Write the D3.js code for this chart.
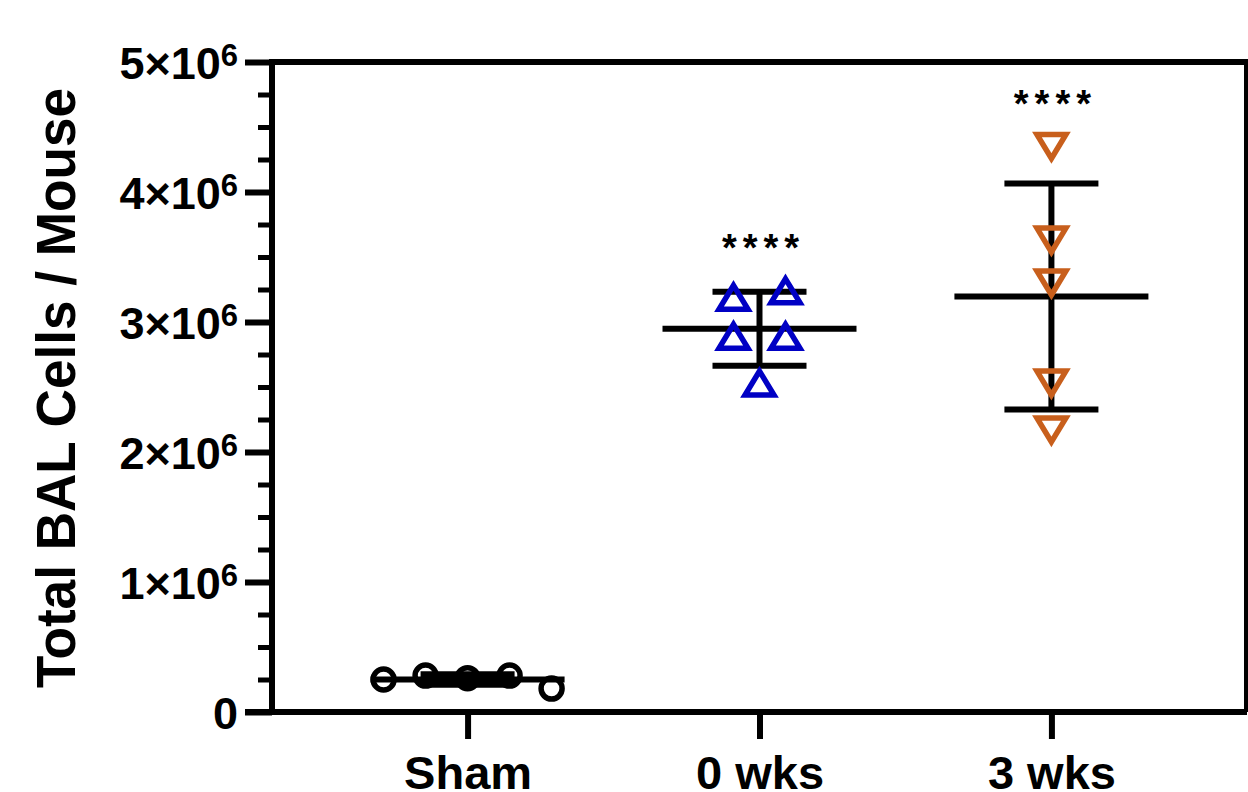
<!DOCTYPE html>
<html>
<head>
<meta charset="utf-8">
<script src="https://cdn.jsdelivr.net/npm/d3@7"></script>
<style>
  html, body { margin: 0; padding: 0; background: #fff; }
  svg { display: block; }
  text { font-family: "Liberation Sans", Arial, Helvetica, sans-serif; font-weight: bold; fill: #000; }
</style>
</head>
<body>
<svg id="chart" width="1248" height="792"></svg>
<script>
// Total BAL cells per mouse, individual animals with mean ± SD
const categories = ["Sham", "0 wks", "3 wks"];
const shamValues = [0.25e6, 0.28e6, 0.26e6, 0.28e6, 0.18e6];
const wk0Values = [3.19e6, 3.24e6, 2.89e6, 2.89e6, 2.53e6];
const wk3Values = [4.35e6, 3.63e6, 3.30e6, 2.53e6, 2.17e6];
const significance = ["", "****", "****"];
const yTickValues = [0, 1e6, 2e6, 3e6, 4e6, 5e6];
const yTickLabels = ["0", "1×10^6", "2×10^6", "3×10^6", "4×10^6", "5×10^6"];
const yMinorStep = 0.25e6;
const yTitle = "Total BAL Cells / Mouse";

const groups = [
  { name: categories[0], values: shamValues, shape: "circle", color: "#000000", spacing: 42 },
  { name: categories[1], values: wk0Values, shape: "triUp", color: "#0000c4", spacing: 52 },
  { name: categories[2], values: wk3Values, shape: "triDown", color: "#c85f1c", spacing: 52 }
];

const svg = d3.select("#chart");
const plotLeft = 272, plotRight = 1247, plotTop = 62, plotBottom = 712;
const lineW = 6;

const x = d3.scalePoint().domain(categories).range([plotLeft, plotRight]).padding(0.67);
const y = d3.scaleLinear().domain([0, 5e6]).range([plotBottom, plotTop]);

// Frame: top and right edges
svg.append("line").attr("x1", plotLeft).attr("x2", plotRight).attr("y1", plotTop).attr("y2", plotTop)
  .attr("stroke", "#000").attr("stroke-width", lineW);
svg.append("line").attr("x1", plotRight).attr("x2", plotRight).attr("y1", plotTop - lineW / 2).attr("y2", plotBottom)
  .attr("stroke", "#000").attr("stroke-width", lineW);

// Y axis: minor ticks
const minorTicks = d3.range(0, 5e6 + 1, yMinorStep).filter(v => !yTickValues.includes(v));
const yMinor = svg.append("g").attr("transform", `translate(${plotLeft},0)`)
  .call(d3.axisLeft(y).tickValues(minorTicks).tickSize(14).tickFormat(""));
yMinor.select(".domain").remove();
yMinor.selectAll(".tick line").attr("stroke-width", lineW - 1);

// Y axis: major ticks and labels
const yAxis = svg.append("g").attr("transform", `translate(${plotLeft},0)`)
  .call(d3.axisLeft(y).tickValues(yTickValues).tickSize(27).tickSizeOuter(0).tickFormat(""));
yAxis.select(".domain").attr("stroke-width", lineW)
  .attr("d", `M0,${plotBottom + lineW / 2}V${plotTop - lineW / 2}`);
yAxis.selectAll(".tick line").attr("stroke-width", lineW);
yAxis.selectAll(".tick").each(function (d, i) {
  const parts = yTickLabels[i].split("^");
  const t = d3.select(this).append("text")
    .attr("x", -34).attr("dy", "0.36em")
    .attr("text-anchor", "end")
    .style("font-size", "45px");
  t.append("tspan").text(parts[0]);
  if (parts[1]) {
    t.append("tspan").attr("dy", "-0.42em").style("font-size", "31px").text(parts[1]);
  }
});

// X axis
const xAxis = svg.append("g").attr("transform", `translate(0,${plotBottom})`)
  .call(d3.axisBottom(x).tickSize(27).tickSizeOuter(0).tickFormat(""));
xAxis.select(".domain").attr("stroke-width", lineW)
  .attr("d", `M${plotLeft - 27},0H${plotRight}`);
xAxis.selectAll(".tick line").attr("stroke-width", lineW);
xAxis.selectAll(".tick").append("text")
  .attr("y", 77).attr("text-anchor", "middle")
  .style("font-size", "47px")
  .text(d => d);

// Y axis title
svg.append("text")
  .attr("transform", `translate(75,388) rotate(-90)`)
  .attr("text-anchor", "middle")
  .attr("textLength", 600).attr("lengthAdjust", "spacingAndGlyphs")
  .style("font-size", "55px")
  .text(yTitle);

// Horizontal dodge for points that share a row
function swarm(values, spacing) {
  const order = d3.range(values.length).sort((a, b) => values[b] - values[a]);
  const rows = [];
  order.forEach(i => {
    const row = rows[rows.length - 1];
    if (row && Math.abs(y(values[i]) - y(values[row[0]])) < 30) row.push(i);
    else rows.push([i]);
  });
  const offsets = new Array(values.length).fill(0);
  rows.forEach(row => {
    row.sort((a, b) => a - b);
    row.forEach((idx, k) => { offsets[idx] = (k - (row.length - 1) / 2) * spacing; });
  });
  return offsets;
}

function markerPath(shape) {
  if (shape === "triUp") return "M0,-12L14.5,12L-14.5,12Z";
  if (shape === "triDown") return "M0,12L14.5,-12L-14.5,-12Z";
  return null;
}

const meanHalf = 97, capHalf = 47;

groups.forEach((g, gi) => {
  const cx = x(g.name);
  const m = d3.mean(g.values);
  const sd = d3.deviation(g.values);
  const layer = svg.append("g");

  // Mean line
  layer.append("line")
    .attr("x1", cx - meanHalf).attr("x2", cx + meanHalf)
    .attr("y1", y(m)).attr("y2", y(m))
    .attr("stroke", "#000").attr("stroke-width", lineW);
  // SD whisker and caps
  layer.append("line")
    .attr("x1", cx).attr("x2", cx)
    .attr("y1", y(m + sd)).attr("y2", y(m - sd))
    .attr("stroke", "#000").attr("stroke-width", lineW);
  [m + sd, m - sd].forEach(v => {
    layer.append("line")
      .attr("x1", cx - capHalf).attr("x2", cx + capHalf)
      .attr("y1", y(v)).attr("y2", y(v))
      .attr("stroke", "#000").attr("stroke-width", lineW);
  });

  // Individual animals
  const offs = swarm(g.values, g.spacing);
  const pts = layer.selectAll(".pt").data(g.values).enter();
  if (g.shape === "circle") {
    pts.append("circle")
      .attr("cx", (d, i) => cx + offs[i]).attr("cy", d => y(d))
      .attr("r", 10.5)
      .attr("fill", "none").attr("stroke", g.color).attr("stroke-width", 5.5);
  } else {
    pts.append("path")
      .attr("d", markerPath(g.shape))
      .attr("transform", (d, i) => `translate(${cx + offs[i]},${y(d)})`)
      .attr("fill", "none").attr("stroke", g.color).attr("stroke-width", 5.5)
      .attr("stroke-linejoin", "miter");
  }

  // Significance stars
  if (significance[gi]) {
    const yTop = y(d3.max(g.values));
    svg.append("text")
      .attr("x", cx + 4).attr("y", yTop - 30)
      .attr("text-anchor", "middle")
      .style("font-size", "38px")
      .style("letter-spacing", "6px")
      .text(significance[gi]);
  }
});
</script>
</body>
</html>
